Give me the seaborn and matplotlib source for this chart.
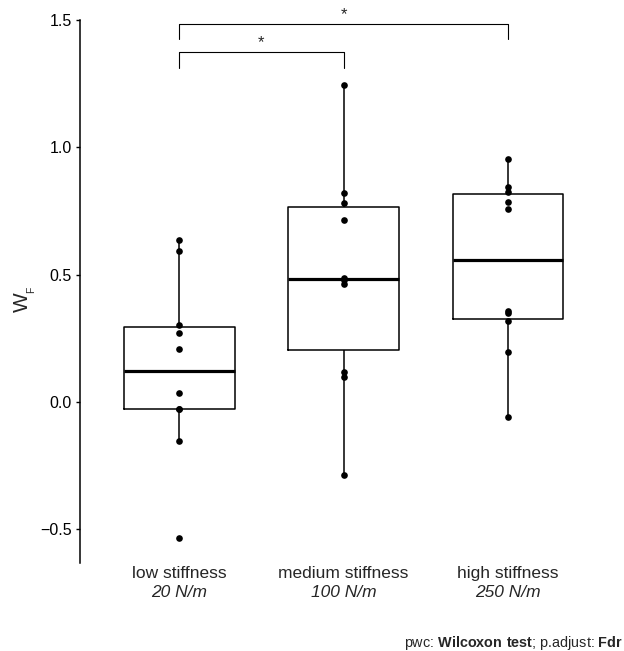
import pandas as pd
import matplotlib
matplotlib.use("Agg")
import matplotlib.pyplot as plt
import matplotlib.transforms as mtransforms
import seaborn as sns

# data
groups = ['low stiffness', 'medium stiffness', 'high stiffness']
units = ['20 N/m', '100 N/m', '250 N/m']
low_wf = [0.637, 0.592, 0.303, 0.272, 0.207, 0.035, -0.026, -0.026, -0.154, -0.533]
medium_wf = [1.244, 0.821, 0.782, 0.714, 0.488, 0.480, 0.464, 0.118, 0.096, -0.289]
high_wf = [0.953, 0.843, 0.824, 0.787, 0.756, 0.357, 0.350, 0.316, 0.195, -0.061]
yticks = [-0.5, 0.0, 0.5, 1.0, 1.5]
ytick_labels = ['\u22120.5', '0.0', '0.5', '1.0', '1.5']
# pairwise comparisons: (group a, group b, bracket height, label)
comparisons = [(0, 1, 1.373, '*'), (0, 2, 1.484, '*')]


def make_frame():
    rows = []
    for name, vals in zip(groups, [low_wf, medium_wf, high_wf]):
        for v in vals:
            rows.append({'group': name, 'wf': v})
    return pd.DataFrame(rows)


def main():
    sns.set_style('white')
    plt.rcParams['font.family'] = ['Liberation Sans', 'DejaVu Sans']

    df = make_frame()
    fig = plt.figure(figsize=(6.24, 6.51), dpi=100)
    ax = fig.add_axes([0.1287, 0.1347, 0.8433, 0.8346])

    sns.boxplot(data=df, x='group', y='wf', order=groups, width=0.674,
                fill=False, color='black', linewidth=1.1, showcaps=False,
                showfliers=False, whis=1.5,
                medianprops={'linewidth': 2.3, 'color': 'black'}, ax=ax)
    sns.stripplot(data=df, x='group', y='wf', order=groups, jitter=False,
                  color='black', size=4.8, ax=ax, zorder=5)

    ax.set_xlim(-0.602, 2.6)
    ax.set_ylim(-0.634, 1.5)
    ax.set_xlabel('')
    ax.set_ylabel('')
    ax.set_xticks([0, 1, 2])
    ax.set_xticklabels([])
    ax.tick_params(axis='x', length=0)
    ax.set_yticks(yticks)
    ax.set_yticklabels(ytick_labels, fontsize=11.5, color='black')
    ax.tick_params(axis='y', length=3.2, width=1.0, pad=3, color='black',
                   left=True)
    for side in ['top', 'right', 'bottom']:
        ax.spines[side].set_visible(False)
    ax.spines['left'].set_color('black')
    ax.spines['left'].set_linewidth(1.1)

    # two-line category labels, second line italic
    tr = mtransforms.blended_transform_factory(ax.transData, fig.transFigure)
    for i, (g, u) in enumerate(zip(groups, units)):
        ax.text(i, 0.1117, g, transform=tr, ha='center', va='baseline',
                fontsize=12.5)
        ax.text(i, 0.0822, u, transform=tr, ha='center', va='baseline',
                fontsize=12.5, style='italic')

    # significance brackets
    for a, b, h, lab in comparisons:
        ax.plot([a, a, b, b], [h - 0.06, h, h, h - 0.06], color='black',
                lw=0.8, clip_on=False)
        ax.text((a + b) / 2, h + 0.008, lab, ha='center', va='bottom',
                fontsize=12)

    # y label W with subscript F
    fig.text(0.0365, 0.5366, 'W', rotation=90, ha='center', va='center',
             fontsize=15)
    fig.text(0.0505, 0.5555, 'F', rotation=90, ha='center', va='center',
             fontsize=7.5)

    # caption
    plt.rcParams['mathtext.fontset'] = 'custom'
    plt.rcParams['mathtext.rm'] = 'Liberation Sans'
    plt.rcParams['mathtext.bf'] = 'Liberation Sans:bold'
    fig.text(0.998, 0.0058,
             r'pwc: $\mathbf{Wilcoxon\ test}$; p.adjust: $\mathbf{Fdr}$',
             ha='right', va='baseline', fontsize=10.4)

    fig.savefig('out.png', dpi=100, facecolor='white')


if __name__ == "__main__":
    main()
